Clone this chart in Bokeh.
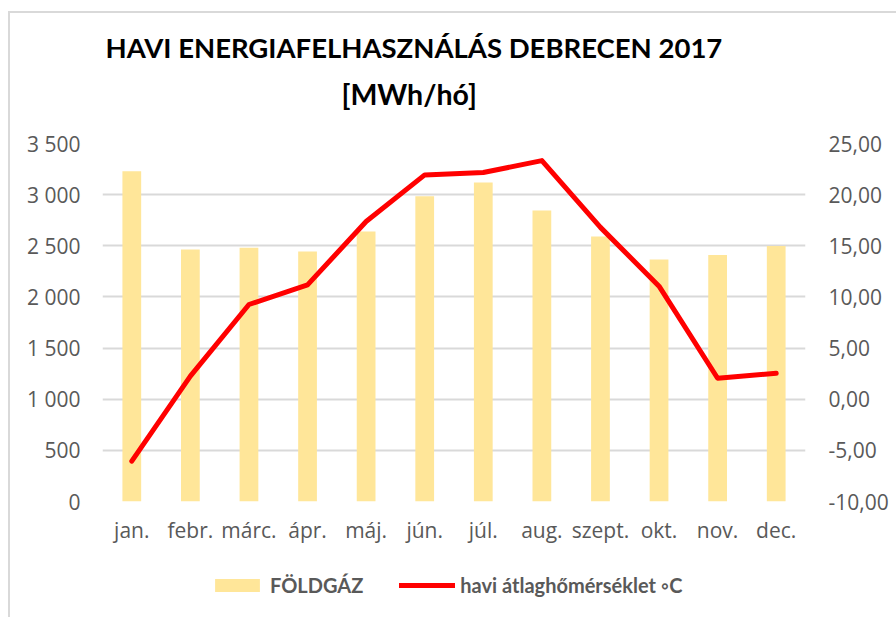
from bokeh.plotting import figure
from bokeh.layouts import column
from bokeh.models import (FactorRange, Range1d, LinearAxis, CustomJSTickFormatter,
                          Legend, LegendItem, Title, ColumnDataSource)
from bokeh.embed import file_html
from bokeh.resources import INLINE

months = ["jan.", "febr.", "márc.", "ápr.", "máj.", "jún.", "júl.", "aug.",
          "szept.", "okt.", "nov.", "dec."]
gas = [3229, 2463, 2480, 2444, 2639, 2984, 3118, 2844, 2590, 2365, 2411, 2499]
temp = [-6.06, 2.25, 9.26, 11.18, 17.37, 21.93, 22.16, 23.33, 16.8, 11.05, 2.05, 2.54]
left_ticks = [0, 500, 1000, 1500, 2000, 2500, 3000, 3500]
right_ticks = [-10, -5, 0, 5, 10, 15, 20, 25]
title1 = "HAVI ENERGIAFELHASZNÁLÁS DEBRECEN 2017"
title2 = "[MWh/hó]"
gas_label = "FÖLDGÁZ"
temp_label = "havi átlaghőmérséklet ◦C"

src = ColumnDataSource(dict(m=months, gas=gas, temp=temp))

TICK_FONT = "Open Sans"
TITLE_FONT = "Lato"
TXT = "#595959"
GRID = "#D9D9D9"
BAR = "#FFE699"
RED = "#FF0000"

p = figure(width=886, height=560, x_range=FactorRange(*months),
           y_range=Range1d(0, 3500), output_backend="svg", toolbar_location=None,
           min_border_left=92, min_border_right=91, min_border_top=130,
           min_border_bottom=72)
p.outline_line_color = None
p.background_fill_color = "white"
p.border_fill_color = "white"

p.extra_y_ranges = {"t": Range1d(-10, 25)}

p.vbar(x="m", top="gas", width=0.32, source=src, fill_color=BAR, line_color=None)
p.line(x="m", y="temp", source=src, y_range_name="t", line_color=RED,
       line_width=5, line_cap="round", line_join="round")

# axes
p.yaxis.ticker = left_ticks
p.yaxis.formatter = CustomJSTickFormatter(
    code="return tick.toFixed(0).replace(/\\B(?=(\\d{3})+(?!\\d))/g, ' ');")
ra = LinearAxis(y_range_name="t", ticker=right_ticks)
ra.formatter = CustomJSTickFormatter(code="return tick.toFixed(2).replace('.', ',');")
p.add_layout(ra, "right")

for ax in [p.yaxis[0], ra, p.xaxis[0]]:
    ax.axis_line_color = None
    ax.major_tick_line_color = None
    ax.minor_tick_line_color = None
    ax.major_tick_out = 0
    ax.major_tick_in = 0
    ax.minor_tick_out = 0
    ax.major_label_text_font = TICK_FONT
    ax.major_label_text_font_size = "21px"
    ax.major_label_text_color = TXT
p.yaxis[0].major_label_standoff = 22
ra.major_label_standoff = 23
p.xaxis.major_label_standoff = 14

p.xgrid.grid_line_color = None
p.ygrid.grid_line_color = GRID
p.ygrid.grid_line_width = 2

# titles (first added sits closest to the plot)
spacer = Title(text=" ", text_font_size="10px", standoff=9)
t2 = Title(text=title2, align="left", offset=239, text_font=TITLE_FONT,
           text_font_style="bold", text_font_size="28.5px", text_color="black",
           standoff=22)
t1 = Title(text=title1, align="left", offset=3, text_font=TITLE_FONT,
           text_font_style="bold", text_font_size="27.5px", text_color="black",
           standoff=0)
p.add_layout(spacer, "above")
p.add_layout(t2, "above")
p.add_layout(t1, "above")

# legend strip (same data, plotted outside its visible range, only to feed the legend)
lg = figure(width=886, height=44, x_range=FactorRange(*months),
            y_range=Range1d(9000, 9001), extra_y_ranges={"t": Range1d(9000, 9001)},
            output_backend="svg", toolbar_location=None, x_axis_type=None,
            y_axis_type=None, min_border=0)
lg.outline_line_color = None
lg.xgrid.grid_line_color = None
lg.ygrid.grid_line_color = None
lb = lg.vbar(x="m", top="gas", width=0.32, source=src, fill_color=BAR, line_color=None)
ll = lg.line(x="m", y="temp", source=src, y_range_name="t", line_color=RED,
             line_width=5, line_cap="round")
legend = Legend(items=[LegendItem(label=gas_label, renderers=[lb]),
                       LegendItem(label=temp_label, renderers=[ll])],
                orientation="horizontal", location=(107, 20),
                label_text_font=TITLE_FONT, label_text_font_style="bold",
                label_text_font_size="20px", label_text_color=TXT,
                glyph_width=56, glyph_height=16, spacing=36,
                border_line_color=None, background_fill_alpha=0,
                margin=0, padding=0, label_standoff=5)
lg.add_layout(legend, "center")

col = column(p, lg, spacing=0)
col.styles = {"border-left": "2px solid #D9D9D9", "border-top": "2px solid #D9D9D9",
              "margin-left": "8px", "margin-top": "11px"}

open("out.html", "w").write(file_html(col, INLINE))
